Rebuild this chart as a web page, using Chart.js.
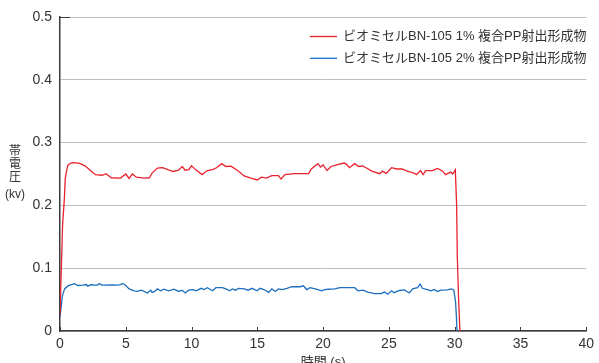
<!DOCTYPE html>
<html>
<head>
<meta charset="utf-8">
<script src="https://cdn.jsdelivr.net/npm/chart.js@4/dist/chart.umd.min.js"></script>
<style>
  html, body { margin: 0; padding: 0; background: #fff; overflow: hidden; }
  #wrap { width: 599px; height: 363px; position: relative; }
</style>
</head>
<body>
<div id="wrap"><canvas id="c"></canvas></div>
<script>
// Series labels
const seriesLabels = [
  'ビオミセルBN-105 1% 複合PP射出形成物',
  'ビオミセルBN-105 2% 複合PP射出形成物'
];

// 1% compound: time (s) and charge voltage (kV)
const time1 = [0, 0.1, 0.2, 0.33, 0.4, 0.5, 0.6, 0.8, 1.0, 1.5, 1.9, 2.3, 2.7, 3.2, 3.5, 3.9, 4.6, 5.0, 5.25, 5.5, 5.8, 6.4, 6.8, 7.0, 7.4, 7.8, 8.2, 8.6, 9.0, 9.3, 9.5, 9.8, 10.0, 10.3, 10.8, 11.2, 11.6, 11.9, 12.3, 12.6, 13.0, 13.5, 14.0, 14.5, 15.0, 15.3, 15.7, 16.1, 16.6, 16.8, 17.1, 17.8, 18.4, 18.9, 19.1, 19.6, 19.8, 20.0, 20.3, 20.6, 21.1, 21.6, 21.8, 22.0, 22.4, 22.7, 23.0, 23.3, 23.7, 24.3, 24.5, 24.8, 25.2, 25.6, 26.0, 26.4, 26.9, 27.1, 27.4, 27.6, 27.8, 28.3, 28.7, 29.1, 29.3, 29.7, 29.85, 30.05, 30.15, 30.2, 30.3, 30.4];
const volt1 = [0.025, 0.1, 0.17, 0.21, 0.243, 0.255, 0.264, 0.267, 0.268, 0.267, 0.263, 0.256, 0.249, 0.248, 0.2505, 0.244, 0.2435, 0.25, 0.243, 0.25, 0.245, 0.2435, 0.244, 0.2515, 0.2595, 0.26, 0.257, 0.254, 0.256, 0.262, 0.256, 0.257, 0.263, 0.257, 0.249, 0.2555, 0.257, 0.26, 0.2665, 0.262, 0.2625, 0.2555, 0.247, 0.2435, 0.2405, 0.245, 0.2435, 0.2475, 0.2475, 0.242, 0.249, 0.2505, 0.2505, 0.2505, 0.258, 0.2665, 0.261, 0.2645, 0.2555, 0.262, 0.265, 0.2675, 0.265, 0.26, 0.2665, 0.262, 0.263, 0.2595, 0.2545, 0.2505, 0.2545, 0.251, 0.26, 0.258, 0.258, 0.2545, 0.2515, 0.249, 0.2555, 0.249, 0.2555, 0.2555, 0.259, 0.2545, 0.249, 0.253, 0.25, 0.257, 0.2, 0.12, 0.05, 0.0];

// 2% compound: time (s) and charge voltage (kV)
const time2 = [0, 0.1, 0.18, 0.35, 0.55, 0.75, 1.1, 1.36, 1.75, 2.0, 2.1, 2.4, 2.6, 2.87, 2.97, 3.2, 3.5, 4.0, 4.25, 4.6, 4.76, 4.9, 5.26, 5.63, 5.9, 6.14, 6.4, 6.64, 6.9, 7.0, 7.2, 7.4, 7.65, 7.9, 8.27, 8.65, 9.03, 9.28, 9.53, 9.78, 10.1, 10.34, 10.72, 10.95, 11.2, 11.6, 11.85, 12.35, 12.6, 12.9, 13.1, 13.35, 13.6, 14.0, 14.3, 14.6, 14.98, 15.2, 15.5, 15.87, 16.1, 16.37, 16.6, 16.9, 17.25, 17.63, 18.0, 18.26, 18.5, 18.75, 19.0, 19.4, 19.9, 20.1, 20.4, 20.9, 21.27, 21.9, 22.4, 22.65, 23.03, 23.4, 23.91, 24.4, 24.65, 24.92, 25.2, 25.4, 25.8, 26.18, 26.55, 26.8, 27.18, 27.38, 27.55, 27.93, 28.2, 28.45, 28.69, 28.94, 29.44, 29.74, 29.94, 30.07, 30.14, 30.18];
const volt2 = [0.022, 0.04, 0.056, 0.067, 0.071, 0.073, 0.0755, 0.0725, 0.073, 0.074, 0.0715, 0.074, 0.073, 0.073, 0.0755, 0.073, 0.073, 0.0735, 0.073, 0.074, 0.0755, 0.0745, 0.067, 0.064, 0.063, 0.065, 0.063, 0.0605, 0.065, 0.0615, 0.063, 0.067, 0.064, 0.0665, 0.064, 0.0665, 0.063, 0.065, 0.0605, 0.065, 0.066, 0.064, 0.068, 0.066, 0.069, 0.064, 0.069, 0.069, 0.067, 0.064, 0.067, 0.065, 0.068, 0.067, 0.065, 0.068, 0.064, 0.068, 0.066, 0.0615, 0.067, 0.063, 0.067, 0.066, 0.068, 0.0705, 0.0705, 0.0705, 0.072, 0.066, 0.069, 0.067, 0.064, 0.066, 0.0665, 0.067, 0.069, 0.069, 0.069, 0.064, 0.065, 0.062, 0.0595, 0.0595, 0.062, 0.0585, 0.064, 0.061, 0.0645, 0.0655, 0.0605, 0.067, 0.069, 0.0745, 0.068, 0.066, 0.064, 0.066, 0.063, 0.065, 0.0655, 0.067, 0.065, 0.046, 0.02, 0];

// Axis tick values
const xTicks = [0, 5, 10, 15, 20, 25, 30, 35, 40];
const yTicks = [0, 0.1, 0.2, 0.3, 0.4, 0.5];

const yTitleChars = ['帯', '電', '圧'];
const yTitleUnit = '(kv)';
const xTitle = '時間 (s)';

const RED = '#e8222c';
const BLUE = '#1b6fbe';
const TEXT = '#333333';
const FONT = '"Liberation Sans", "Noto Sans CJK JP", sans-serif';

const toPoints = (ts, vs) => ts.map((t, i) => ({ x: t, y: vs[i] }));

// Stacked axis title, inner ticks and the legend box
const decor = {
  id: 'decor',
  afterDraw(chart) {
    const { ctx, chartArea, scales: { x, y } } = chart;
    ctx.save();
    ctx.strokeStyle = '#3a3a3a';
    ctx.lineWidth = 1;
    // inward ticks along the time axis
    x.ticks.forEach(t => {
      const px = Math.round(x.getPixelForValue(t.value)) + 0.5;
      ctx.beginPath();
      ctx.moveTo(px, chartArea.bottom);
      ctx.lineTo(px, chartArea.bottom - 4);
      ctx.stroke();
    });
    // short dark tick at the top of the voltage axis
    const py = Math.round(y.getPixelForValue(y.max)) + 0.5;
    ctx.beginPath();
    ctx.moveTo(chartArea.left, py);
    ctx.lineTo(chartArea.left + 10, py);
    ctx.stroke();

    // vertical stacked voltage title
    ctx.fillStyle = TEXT;
    ctx.textAlign = 'center';
    ctx.textBaseline = 'middle';
    ctx.font = '12px ' + FONT;
    yTitleChars.forEach((c, i) => ctx.fillText(c, 15, 152 + i * 13));
    ctx.fillText(yTitleUnit, 15, 195);

    // legend
    ctx.textAlign = 'left';
    ctx.font = '13px ' + FONT;
    chart.data.datasets.forEach((ds, i) => {
      const ly = 36.5 + i * 21.8;
      ctx.strokeStyle = ds.borderColor;
      ctx.lineWidth = 1.3;
      ctx.beginPath();
      ctx.moveTo(310, ly);
      ctx.lineTo(337, ly);
      ctx.stroke();
      ctx.fillStyle = TEXT;
      ctx.fillText(ds.label, 343, ly);
    });
    ctx.restore();
  }
};

new Chart(document.getElementById('c'), {
  type: 'line',
  data: {
    datasets: [
      { label: seriesLabels[0], data: toPoints(time1, volt1), borderColor: RED, borderWidth: 1.3, pointRadius: 0, tension: 0, fill: false },
      { label: seriesLabels[1], data: toPoints(time2, volt2), borderColor: BLUE, borderWidth: 1.3, pointRadius: 0, tension: 0, fill: false }
    ]
  },
  options: {
    responsive: true,
    maintainAspectRatio: false,
    animation: false,
    devicePixelRatio: 1,
    layout: { padding: { left: 0, top: 17, right: 9, bottom: 0 } },
    plugins: { legend: { display: false }, tooltip: { enabled: false } },
    scales: {
      x: {
        type: 'linear',
        min: 0, max: 40,
        afterBuildTicks: s => { s.ticks = xTicks.map(v => ({ value: v })); },
        afterFit: s => { s.height = 32; },
        grid: { display: false, drawTicks: false },
        border: { display: true, color: '#3a3a3a', width: 1.5 },
        ticks: { color: TEXT, font: { family: FONT, size: 14 }, padding: 5, maxRotation: 0 },
        title: { display: true, text: xTitle, color: TEXT, font: { family: FONT, size: 13 }, padding: { top: 0, bottom: -7 } }
      },
      y: {
        min: 0, max: 0.5,
        afterBuildTicks: s => { s.ticks = yTicks.map(v => ({ value: v })); },
        afterFit: s => { s.width = 60; },
        grid: { color: '#bdbdbd', lineWidth: 1, drawTicks: false },
        border: { display: true, color: '#3a3a3a', width: 1.5 },
        ticks: { color: TEXT, font: { family: FONT, size: 14 }, padding: 8 }
      }
    }
  },
  plugins: [decor]
});
</script>
</body>
</html>
